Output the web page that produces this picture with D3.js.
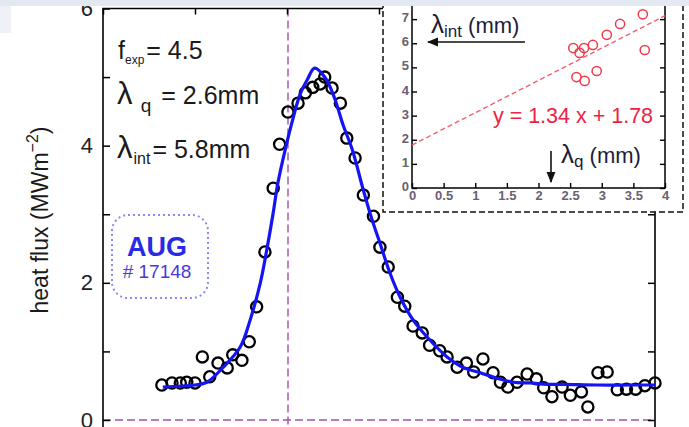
<!DOCTYPE html>
<html>
<head>
<meta charset="utf-8">
<script src="https://cdn.jsdelivr.net/npm/d3@7"></script>
<style>
  body { margin: 0; background: #fff; }
  svg { display: block; font-family: "Liberation Sans", Arial, sans-serif; }
</style>
</head>
<body>
<div id="chart"></div>
<script>
// main profile: target coordinate (mm) and heat flux (MW m^-2)
const fluxX = [-13.6, -12.5, -11.6, -10.9, -10.0, -9.2, -8.4, -7.5, -6.5, -5.9, -4.9, -4.1, -3.3, -2.4,
  -1.5, -0.8, 0.1, 1.2, 2.0, 2.8, 3.6, 4.1, 4.9, 5.8, 6.5, 7.4, 8.3, 9.4, 10.1, 11.0, 12.0, 12.8,
  13.7, 14.7, 15.5, 16.6, 17.4, 18.5, 19.5, 20.3, 21.3, 22.4, 23.2, 24.0, 25.0, 26.1, 27.1, 27.9,
  28.8, 29.9, 30.8, 32.0, 32.7, 33.8, 34.8, 35.9, 36.9, 37.9, 38.9, 40.0];
const fluxY = [0.51, 0.54, 0.54, 0.55, 0.54, 0.92, 0.63, 0.83, 0.76, 0.95, 0.87, 1.14, 1.65, 2.45,
  3.38, 4.02, 4.49, 4.62, 4.77, 4.85, 4.90, 5.00, 4.84, 4.62, 4.11, 3.82, 3.28, 2.97, 2.52, 2.23,
  1.79, 1.66, 1.37, 1.27, 1.09, 1.01, 0.92, 0.77, 0.83, 0.70, 0.89, 0.69, 0.55, 0.48, 0.55, 0.67,
  0.60, 0.47, 0.34, 0.48, 0.36, 0.41, 0.19, 0.69, 0.70, 0.44, 0.45, 0.45, 0.50, 0.54];

// fitted profile
const fitX = [-13.5, -10.0, -8.7, -7.0, -5.1, -4.0, -2.9, -2.2, -1.5, -1.0, -0.2, 0.7, 1.4, 2.2, 3.0,
  4.1, 5.1, 6.1, 7.1, 8.3, 9.2, 10.1, 11.2, 12.3, 13.7, 15.5, 17.4, 19.1, 21.0, 22.8, 24.6, 26.4,
  28.3, 30.0, 33.7, 37.3, 40.0];
const fitY = [0.48, 0.51, 0.55, 0.76, 1.06, 1.46, 2.00, 2.48, 3.02, 3.45, 3.94, 4.42, 4.74, 4.96, 5.13,
  5.00, 4.72, 4.30, 3.94, 3.35, 2.94, 2.58, 2.14, 1.79, 1.46, 1.17, 0.92, 0.77, 0.69, 0.61, 0.55, 0.54,
  0.52, 0.52, 0.51, 0.51, 0.51];

const yTicks = [0, 1, 2, 3, 4, 5, 6];
const yLabels = ["0", "", "2", "", "4", "", "6"];
const xTicks = [-20, -10, 0, 10, 20, 30, 40];

// inset: lambda_int vs lambda_q (mm)
const insetLq = [2.55, 2.65, 2.72, 2.86, 3.08, 3.29, 3.65, 3.68, 2.6, 2.73, 2.92];
const insetLint = [5.8, 5.6, 5.8, 5.93, 6.35, 6.8, 7.2, 5.72, 4.6, 4.44, 4.85];
const insetFitX = [0, 4];
const insetFitY = [1.78, 7.14];
const insetXTicks = [0, 0.5, 1, 1.5, 2, 2.5, 3, 3.5, 4];
const insetXLabels = ["0", "0.5", "1", "1.5", "2", "2.5", "3", "3.5", "4"];
const insetYTicks = [0, 1, 2, 3, 4, 5, 6, 7];

const W = 689, H = 427;
const purple = "#a452a4";

const svg = d3.select("#chart").append("svg")
    .attr("width", W)
    .attr("height", H);

const x = d3.scaleLinear().domain([-20, 40]).range([103, 655]);
const y = d3.scaleLinear().domain([0, 6]).range([420, 8.5]);

// reference lines
svg.append("line")
    .attr("x1", x(0) + 1).attr("x2", x(0) + 1)
    .attr("y1", y(6)).attr("y2", H)
    .attr("stroke", purple).attr("stroke-width", 1.4)
    .attr("stroke-dasharray", "8,4");
svg.append("line")
    .attr("x1", x(-20)).attr("x2", x(40))
    .attr("y1", y(0)).attr("y2", y(0))
    .attr("stroke", purple).attr("stroke-width", 1.4)
    .attr("stroke-dasharray", "8,4");

// axes
const leftAxis = svg.append("g")
    .attr("transform", `translate(${x(-20)},0)`)
    .call(d3.axisLeft(y).tickValues(yTicks).tickSize(-7).tickPadding(10)
        .tickFormat((d, i) => yLabels[i]));
const rightAxis = svg.append("g")
    .attr("transform", `translate(${x(40)},0)`)
    .call(d3.axisRight(y).tickValues(yTicks).tickSize(-7).tickFormat(""));
const topAxis = svg.append("g")
    .attr("transform", `translate(0,${y(6)})`)
    .call(d3.axisTop(x).tickValues(xTicks).tickSize(-6).tickFormat(""));

[leftAxis, rightAxis, topAxis].forEach(g => {
    g.select(".domain").remove();
    g.selectAll("line").attr("stroke", "#000").attr("stroke-width", 1.5);
});
leftAxis.selectAll("text")
    .attr("font-size", 22).attr("fill", "#222")
    .attr("font-family", "Liberation Sans, Arial, sans-serif");

// frame (bottom edge falls outside the picture)
svg.append("path")
    .attr("d", `M${x(-20)},${H + 5} V${y(6)} H${x(40)} V${H + 5}`)
    .attr("fill", "none").attr("stroke", "#000").attr("stroke-width", 1.6);

// data + fit
const line = d3.line()
    .x((d, i) => x(fitX[i]))
    .y(d => y(d))
    .curve(d3.curveCatmullRom.alpha(0.5));

svg.append("g").selectAll("circle")
    .data(fluxY)
    .enter()
    .append("circle")
    .attr("cx", (d, i) => x(fluxX[i]))
    .attr("cy", d => y(d))
    .attr("r", 5.6)
    .attr("fill", "none")
    .attr("stroke", "#000")
    .attr("stroke-width", 2.3);

svg.append("path")
    .datum(fitY)
    .attr("d", line)
    .attr("fill", "none")
    .attr("stroke", "#1414f5")
    .attr("stroke-width", 3.2);

// parameter text
const params = svg.append("g").attr("fill", "#1a1a1a").attr("font-size", 25);
const t1 = params.append("text").attr("x", 118).attr("y", 59);
t1.append("tspan").text("f");
t1.append("tspan").attr("font-size", 12).attr("dy", 5).text("exp");
t1.append("tspan").attr("dy", -5).attr("dx", 2).text("= 4.5");

const t2 = params.append("text").attr("x", 117).attr("y", 104);
t2.append("tspan").attr("font-size", 31).text("λ");
t2.append("tspan").attr("font-size", 19).attr("dy", 8).attr("dx", 3).text(" q");
t2.append("tspan").attr("dy", -8).attr("dx", 3).text(" = 2.6mm");

const t3 = params.append("text").attr("x", 117).attr("y", 158);
t3.append("tspan").attr("font-size", 31).text("λ");
t3.append("tspan").attr("font-size", 16).attr("dy", 6).attr("dx", 1).text("int");
t3.append("tspan").attr("dy", -6).attr("dx", 2).text("= 5.8mm");

// shot label
svg.append("rect")
    .attr("x", 112).attr("y", 215)
    .attr("width", 96).attr("height", 83)
    .attr("rx", 16)
    .attr("fill", "none")
    .attr("stroke", "#8a8af5")
    .attr("stroke-width", 2)
    .attr("stroke-dasharray", "2,3");
svg.append("text")
    .attr("x", 157).attr("y", 256)
    .attr("text-anchor", "middle")
    .attr("font-size", 27).attr("font-weight", "bold")
    .attr("fill", "#2a2ae6")
    .text("AUG");
svg.append("text")
    .attr("x", 157).attr("y", 278)
    .attr("text-anchor", "middle")
    .attr("font-size", 19)
    .attr("fill", "#4a38d8")
    .text("# 17148");

// y title
const ylab = svg.append("text")
    .attr("transform", "translate(48,220) rotate(-90)")
    .attr("text-anchor", "middle")
    .attr("font-size", 23)
    .attr("fill", "#1a1a1a");
ylab.append("tspan").text("heat flux (MWm");
ylab.append("tspan").attr("font-size", 16).attr("dy", -10).text("−2");
ylab.append("tspan").attr("dy", 10).text(")");

// ---------- inset ----------
svg.append("rect")
    .attr("x", 383).attr("y", -10)
    .attr("width", 300).attr("height", 222)
    .attr("fill", "#fff")
    .attr("stroke", "#111")
    .attr("stroke-width", 1.5)
    .attr("stroke-dasharray", "6,3");

const ix = d3.scaleLinear().domain([0, 4]).range([412, 665]);
const iy = d3.scaleLinear().domain([0, 8]).range([188, -5]);

const iBottom = svg.append("g")
    .attr("transform", `translate(0,${iy(0)})`)
    .call(d3.axisBottom(ix).tickValues(insetXTicks).tickSize(-5).tickPadding(3)
        .tickFormat((d, i) => insetXLabels[i]));
const iLeft = svg.append("g")
    .attr("transform", `translate(${ix(0)},0)`)
    .call(d3.axisLeft(iy).tickValues(insetYTicks).tickSize(-5).tickPadding(3));
const iRight = svg.append("g")
    .attr("transform", `translate(${ix(4)},0)`)
    .call(d3.axisRight(iy).tickValues(insetYTicks).tickSize(-5).tickFormat(""));

[iBottom, iLeft, iRight].forEach(g => {
    g.select(".domain").remove();
    g.selectAll("line").attr("stroke", "#000").attr("stroke-width", 1.4);
    g.selectAll("text")
        .attr("font-size", 13)
        .attr("font-weight", "bold")
        .attr("fill", "#6a6070")
        .attr("font-family", "Liberation Sans, Arial, sans-serif");
});
iLeft.selectAll("text").attr("dy", "0.2em");

svg.append("path")
    .attr("d", `M${ix(0)},-5 V${iy(0)} H${ix(4)} V-5`)
    .attr("fill", "none").attr("stroke", "#000").attr("stroke-width", 1.5);

svg.append("line")
    .attr("x1", ix(insetFitX[0])).attr("y1", iy(insetFitY[0]))
    .attr("x2", ix(insetFitX[1])).attr("y2", iy(insetFitY[1]))
    .attr("stroke", "#f06070")
    .attr("stroke-width", 1.4)
    .attr("stroke-dasharray", "5,3");

svg.append("g").selectAll("circle")
    .data(insetLint)
    .enter()
    .append("circle")
    .attr("cx", (d, i) => ix(insetLq[i]))
    .attr("cy", d => iy(d))
    .attr("r", 4.6)
    .attr("fill", "none")
    .attr("stroke", "#ee3a4a")
    .attr("stroke-width", 1.5);

svg.append("text")
    .attr("x", 573).attr("y", 123)
    .attr("text-anchor", "middle")
    .attr("font-size", 21.5)
    .attr("fill", "#ee2244")
    .text("y = 1.34 x + 1.78");

svg.append("defs").append("marker")
    .attr("id", "arr")
    .attr("viewBox", "0 0 10 10")
    .attr("refX", 9).attr("refY", 5)
    .attr("markerWidth", 7).attr("markerHeight", 7)
    .attr("orient", "auto")
    .append("path")
    .attr("d", "M0,1 L10,5 L0,9 Z")
    .attr("fill", "#111");

const lint = svg.append("text").attr("x", 431).attr("y", 33)
    .attr("font-size", 22).attr("fill", "#1c1c3c");
lint.append("tspan").attr("font-size", 26).text("λ");
lint.append("tspan").attr("font-size", 17).attr("dy", 4).text("int");
lint.append("tspan").attr("dy", -4).text(" (mm)");
svg.append("line")
    .attr("x1", 525).attr("y1", 42).attr("x2", 428).attr("y2", 42)
    .attr("stroke", "#111").attr("stroke-width", 1.6)
    .attr("marker-end", "url(#arr)");

const lq = svg.append("text").attr("x", 561).attr("y", 163)
    .attr("font-size", 22).attr("fill", "#1c1c3c");
lq.append("tspan").attr("font-size", 26).text("λ");
lq.append("tspan").attr("font-size", 17).attr("dy", 4).text("q");
lq.append("tspan").attr("dy", -4).text(" (mm)");
svg.append("line")
    .attr("x1", 551).attr("y1", 151).attr("x2", 551).attr("y2", 182)
    .attr("stroke", "#111").attr("stroke-width", 1.6)
    .attr("marker-end", "url(#arr)");

// slide background strip at the top edge
svg.append("rect").attr("x", 0).attr("y", 0).attr("width", 11).attr("height", 33).attr("fill", "#eef2f7");
svg.append("rect").attr("x", 0).attr("y", 0).attr("width", W).attr("height", 6).attr("fill", "#e3e9f1");
</script>
</body>
</html>
